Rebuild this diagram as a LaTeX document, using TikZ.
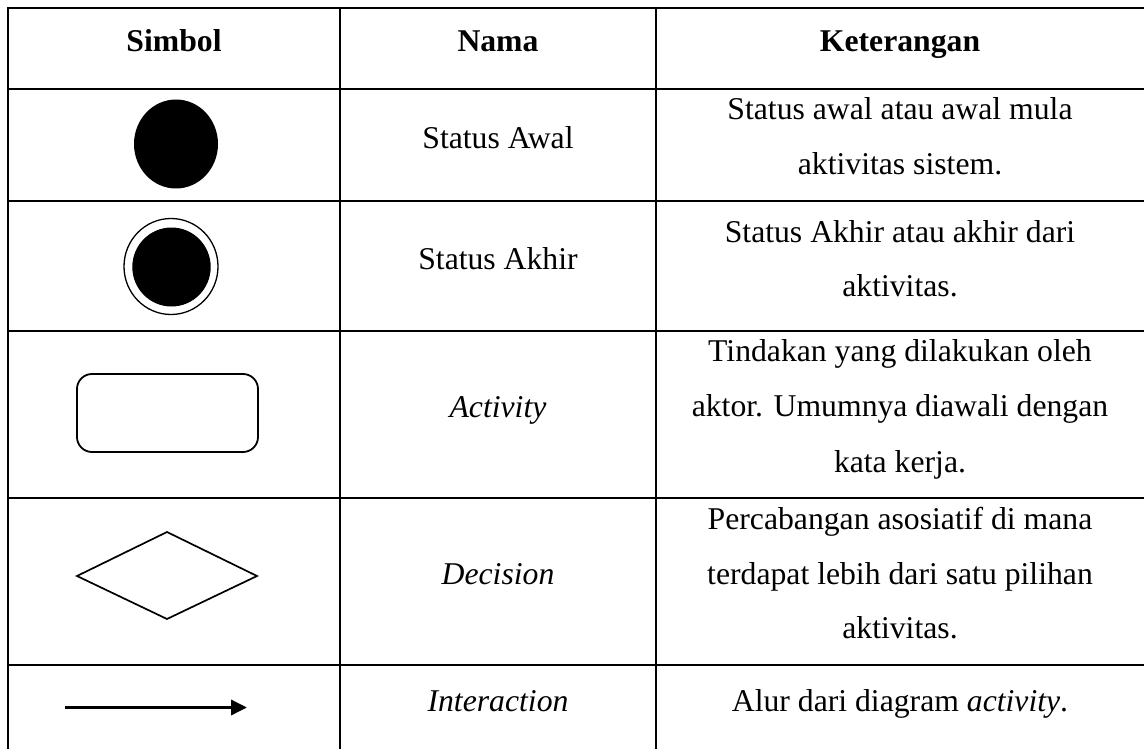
\documentclass[tikz,border=0pt]{standalone}
\usepackage{fontspec}
\setmainfont{Liberation Serif}
\usetikzlibrary{arrows.meta}
\begin{document}
\begin{tikzpicture}[x=1pt,y=-1pt,
  grid/.style={line width=1.8pt, black},
  txt/.style={anchor=base, inner sep=0pt, font=\fontsize{31.7}{38}\selectfont},
  hdr/.style={anchor=base, inner sep=0pt, font=\fontsize{31.7}{38}\selectfont\bfseries},
  shapeline/.style={line width=1.8pt, black},
]
\useasboundingbox (0,0) rectangle (1144,749);
% table grid
\foreach \yy in {8,89,201,331,498,665} {\draw[grid] (7.1,\yy) -- (1144,\yy);}
\foreach \xx in {8,340,656} {\draw[grid] (\xx,7.1) -- (\xx,749);}
% header
\node[hdr] (h1) at (174,52) {Simbol};
\node[hdr] (h2) at (498,52) {Nama};
\node[hdr] (h3) at (900,52) {Keterangan};
% row 1
\fill (176,144) ellipse [x radius=42, y radius=44.5];
\node[txt] (n1) at (498,149) {Status Awal};
\node[txt] (d1a) at (900,120) {Status awal atau awal mula};
\node[txt] (d1b) at (900,175) {aktivitas sistem.};
% row 2
\draw[line width=1.3pt] (171,266.5) ellipse [x radius=47, y radius=48];
\fill (171.5,267) ellipse [x radius=39.2, y radius=39.5];
\node[txt] (n2) at (498,269) {Status Akhir};
\node[txt] (d2a) at (900,242) {Status Akhir atau akhir dari};
\node[txt] (d2b) at (900,296) {aktivitas.};
% row 3
\draw[shapeline, rounded corners=15pt] (77,374) rectangle (258,452);
\node[txt] (n3) at (498,417) {\itshape Activity};
\node[txt] (d3a) at (900,361) {Tindakan yang dilakukan oleh};
\node[txt] (d3b) at (900,416.5) {aktor. Umumnya diawali dengan};
\node[txt] (d3c) at (900,472) {kata kerja.};
% row 4
\draw[line width=1.7pt, line join=miter] (77,576) -- (167,532) -- (257,576) -- (167,619) -- cycle;
\node[txt] (n4) at (498,584) {\itshape Decision};
\node[txt] (d4a) at (900,529) {Percabangan asosiatif di mana};
\node[txt] (d4b) at (900,584) {terdapat lebih dari satu pilihan};
\node[txt] (d4c) at (900,638.5) {aktivitas.};
% row 5
\coordinate (as) at (65,707.5);
\coordinate (ae) at (247,707.5);
\draw[line width=3.5pt, -{Triangle[length=16pt,width=15pt]}] (as) -- (ae);
\node[txt] (n5) at (498,711) {\itshape Interaction};
\node[txt] (d5) at (900,711.5) {Alur dari diagram \textit{activity}.};
\end{tikzpicture}
\end{document}
